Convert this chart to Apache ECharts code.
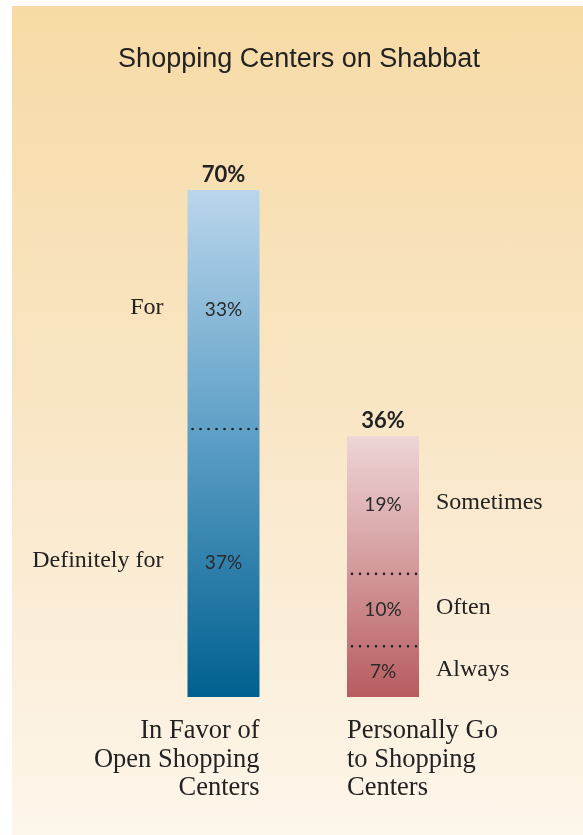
<!DOCTYPE html>
<html>
<head>
<meta charset="utf-8">
<script src="https://cdn.jsdelivr.net/npm/echarts@6/dist/echarts.min.js"></script>
<style>
  html, body { margin: 0; padding: 0; background: #ffffff; }
  #panel { position: absolute; left: 12px; top: 6px; width: 571px; height: 829px;
           background: linear-gradient(to bottom, #f7dba6 0%, #f9e6c6 50%, #fdf6eb 100%); }
  #chart { position: absolute; left: 0; top: 0; width: 583px; height: 835px; }
</style>
</head>
<body>
<div id="panel"></div>
<div id="chart"></div>
<script>
// ---- data ----
const title = 'Shopping Centers on Shabbat';
const categories = ['In Favor of\nOpen Shopping\nCenters', 'Personally Go\nto Shopping\nCenters'];
const totals = [70, 36];
const totalLabels = ['70%', '36%'];
const favorNames = ['Definitely for', 'For'];
const favorValues = [37, 33];
const visitNames = ['Always', 'Often', 'Sometimes'];
const visitValues = [7, 10, 19];

// ---- build segment rows (catIndex, start, end, value, name, side) ----
function buildSegments(ci, names, values, side) {
  const rows = [];
  let acc = 0;
  values.forEach((v, i) => {
    rows.push({ ci, start: acc, end: acc + v, value: v, name: names[i], side });
    acc += v;
  });
  return rows;
}
const segments = buildSegments(0, favorNames, favorValues, 'left')
  .concat(buildSegments(1, visitNames, visitValues, 'right'));

const BAR_W = 72;
const pctFont = 'Lato, "Open Sans", sans-serif';
const serif = '"Liberation Serif", "DejaVu Serif", serif';

const blueGrad = new echarts.graphic.LinearGradient(0, 0, 0, 1, [
  { offset: 0, color: '#bad6eb' },
  { offset: 0.5, color: '#5a9dc5' },
  { offset: 1, color: '#00608f' }
]);
const pinkGrad = new echarts.graphic.LinearGradient(0, 0, 0, 1, [
  { offset: 0, color: '#eed5d7' },
  { offset: 0.5, color: '#d49a9c' },
  { offset: 1, color: '#b75c5f' }
]);
const grads = [blueGrad, pinkGrad];

const chart = echarts.init(document.getElementById('chart'), null, { renderer: 'canvas' });
chart.setOption({
  backgroundColor: 'transparent',
  animation: false,
  title: {
    text: title, left: 294, top: 41, textAlign: 'center',
    textStyle: { fontFamily: '"Liberation Sans", Arial, sans-serif', fontSize: 27, fontWeight: 'normal', color: '#222222' }
  },
  grid: { left: 143.75, right: 120.25, top: 190, bottom: 138 },
  xAxis: {
    type: 'category', data: categories,
    axisLine: { show: false }, axisTick: { show: false }, axisLabel: { show: false }
  },
  yAxis: {
    type: 'value', min: 0, max: 70,
    show: false, splitLine: { show: false }
  },
  series: [
    {
      type: 'bar', barWidth: BAR_W,
      data: totals.map((v, i) => ({ value: v, itemStyle: { color: grads[i] } })),
      label: {
        show: true, position: 'top', distance: 4,
        formatter: p => totalLabels[p.dataIndex],
        fontFamily: pctFont, fontSize: 22, fontWeight: 'bold', color: '#222222'
      },
      z: 2
    },
    {
      type: 'custom',
      data: segments.map(s => [s.ci, s.start, s.end]),
      z: 5,
      renderItem: function (params, api) {
        const seg = segments[params.dataIndex];
        const pb = api.coord([api.value(0), api.value(1)]);
        const pt = api.coord([api.value(0), api.value(2)]);
        const x = pb[0];
        const yMid = (pb[1] + pt[1]) / 2;
        const children = [
          { type: 'text', style: { text: seg.value + '%', x: x, y: yMid, align: 'center', verticalAlign: 'middle',
              font: '19px ' + pctFont, fill: '#2a2a2a' } },
          { type: 'text', style: { text: seg.name,
              x: seg.side === 'left' ? x - BAR_W / 2 - 24 : x + BAR_W / 2 + 17,
              y: yMid - 2, align: seg.side === 'left' ? 'right' : 'left', verticalAlign: 'middle',
              font: '24px ' + serif, fill: '#222222' } }
        ];
        if (seg.start > 0) {
          children.push({ type: 'line', shape: { x1: x - BAR_W / 2 + 5, y1: pb[1], x2: x + BAR_W / 2, y2: pb[1] },
            style: { stroke: '#1c1c28', lineWidth: 2.6, lineDash: [0, 8], lineCap: 'round' } });
        }
        return { type: 'group', children };
      }
    },
    {
      type: 'custom',
      data: categories.map((c, i) => [i, 0]),
      z: 5,
      renderItem: function (params, api) {
        const i = params.dataIndex;
        const p = api.coord([api.value(0), api.value(1)]);
        const left = i === 0;
        return {
          type: 'text',
          style: {
            text: categories[i],
            x: left ? p[0] + BAR_W / 2 : p[0] - BAR_W / 2,
            y: p[1] + 20,
            align: left ? 'right' : 'left', verticalAlign: 'top',
            font: '26.5px ' + serif, lineHeight: 28.5, fill: '#222222'
          }
        };
      }
    }
  ]
});
</script>
</body>
</html>
